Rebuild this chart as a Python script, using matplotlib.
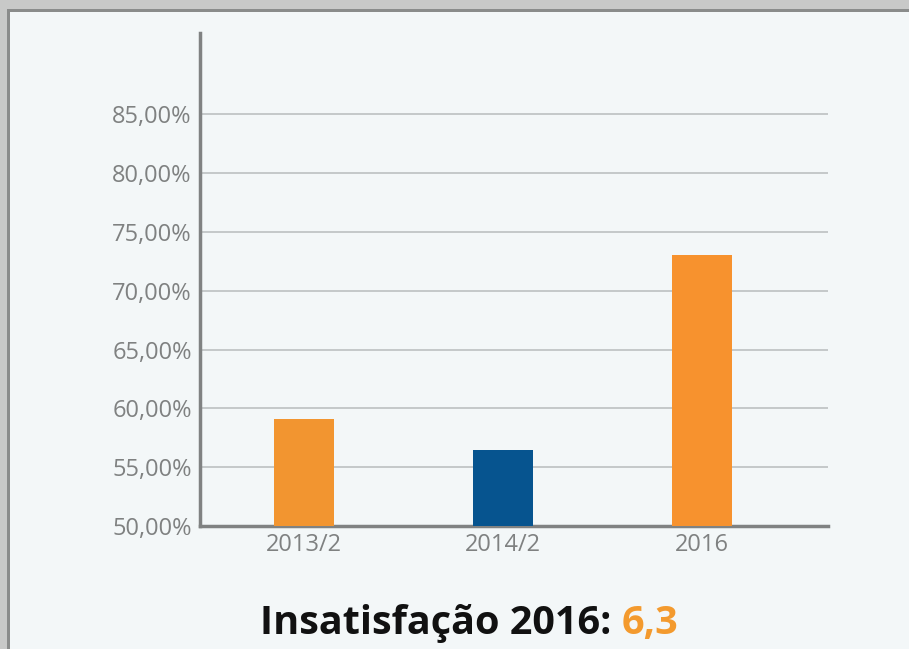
import numpy as np
import matplotlib.pyplot as plt
from matplotlib.patches import Rectangle

# data
periods = ["2013/2", "2014/2", "2016"]
satisfaction = [59.07, 56.45, 73.05]
bar_colors = ["#f29530", "#06548f", "#f7922e"]
y_ticks = [50, 55, 60, 65, 70, 75, 80, 85]
title_text = "Insatisfação 2016: "
title_value = "6,3"

W, H = 909, 649
BG = "#f3f7f8"
GRAY = "#808282"

fig = plt.figure(figsize=(W / 100, H / 100), dpi=100)
fig.patch.set_facecolor("#c8c9c8")
# framed panel (dark line on left/top edge)
fig.patches.append(Rectangle((7 / W, 0), 1, (H - 9) / H, transform=fig.transFigure,
                             facecolor="#8a8c8b", edgecolor="none", zorder=-2))
fig.patches.append(Rectangle((10 / W, 0), 1, (H - 12) / H, transform=fig.transFigure,
                             facecolor=BG, edgecolor="none", zorder=-1))

ax = fig.add_axes([200 / W, (H - 526) / H, 628 / W, (526 - 33) / H])
ax.set_facecolor(BG)
ax.patch.set_alpha(0)

x = np.arange(len(periods))
ax.bar(x, satisfaction, width=0.30, color=bar_colors, zorder=3)

ax.set_ylim(50, 91.9)
ax.set_xlim(-0.523, 2.633)
ax.set_yticks(y_ticks)
ax.set_yticklabels([f"{v:.2f}%".replace(".", ",") for v in y_ticks])
ax.set_xticks(x)
ax.set_xticklabels(periods)
ax.yaxis.grid(True, color="#bcc0c1", linewidth=1.2, zorder=0)
ax.set_axisbelow(True)

for side in ["top", "right"]:
    ax.spines[side].set_visible(False)
for side in ["left", "bottom"]:
    ax.spines[side].set_color(GRAY)
    ax.spines[side].set_linewidth(2.5)
ax.tick_params(length=0, labelsize=17, labelcolor="#7f8181")
ax.tick_params(axis="y", pad=6)
ax.tick_params(axis="x", pad=5)
for lab in ax.get_xticklabels() + ax.get_yticklabels():
    lab.set_family("Open Sans")

# title with coloured value
base_y = (H - 634) / H
t1 = fig.text(260 / W, base_y, title_text, fontsize=28.5, fontweight="bold",
              family="Open Sans", color="#111111", va="baseline", ha="left")
fig.canvas.draw()
bb = t1.get_window_extent()
fig.text(bb.x1 / W, base_y, title_value, fontsize=28.5, fontweight="bold",
         family="Open Sans", color="#f39a2e", va="baseline", ha="left")

fig.savefig("out.png", dpi=100, facecolor=fig.get_facecolor())
